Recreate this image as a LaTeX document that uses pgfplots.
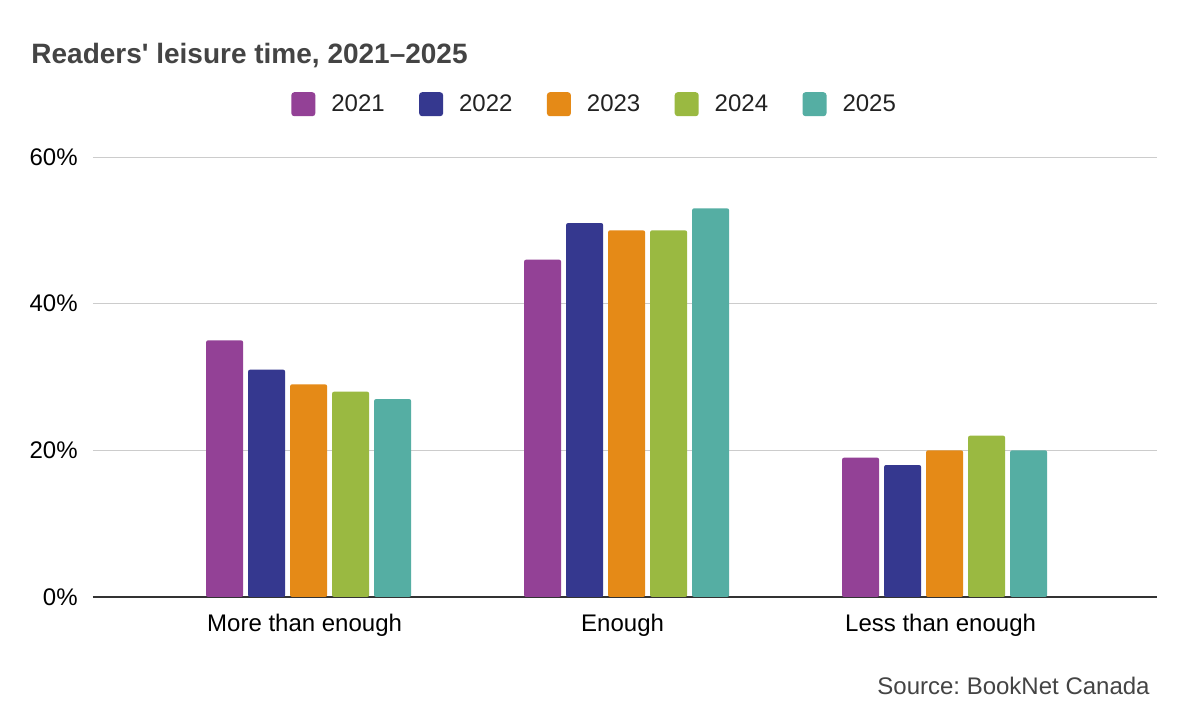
\documentclass[border=0pt]{standalone}
\usepackage{fontspec}
\setmainfont{Liberation Sans}
\usepackage{pgfplots}
\pgfplotsset{compat=1.18}
\definecolor{cA}{HTML}{934196}
\definecolor{cB}{HTML}{35388F}
\definecolor{cC}{HTML}{E58A17}
\definecolor{cD}{HTML}{9AB941}
\definecolor{cE}{HTML}{55AEA3}
\definecolor{titlegray}{HTML}{444444}
\definecolor{gridgray}{HTML}{CCCCCC}
\definecolor{axisdark}{HTML}{333333}
\definecolor{txt}{HTML}{222222}
\newcommand\fs{\fontsize{12pt}{14pt}\selectfont}
\frenchspacing
\begin{document}
\begin{tikzpicture}
\useasboundingbox (0,0) rectangle (591pt,363.5pt);
\fill[white] (0,0) rectangle (591pt,363.5pt);
\node[anchor=base west, font=\fontsize{14pt}{16pt}\selectfont\bfseries, text=titlegray, inner sep=0pt] at (15.5pt,331.5pt) {Readers\textquotesingle{} leisure time, 2021--2025};
\node[anchor=base east, font=\fs, text=titlegray, inner sep=0pt] at (575pt,16pt) {Source: BookNet Canada};
\begin{axis}[
  at={(46.5pt,65pt)}, anchor=south west,
  scale only axis, width=532pt, height=220pt,
  ybar=2.5pt, bar width=18.5pt,
  xmin=-0.678, xmax=2.668, ymin=0, ymax=60,
  xtick={0,1,2},
  xticklabels={More than enough, Enough, Less than enough},
  ytick={0,20,40,60},
  yticklabel={\pgfmathprintnumber{\tick}\%},
  /pgf/number format/assume math mode=true,
  axis x line*=bottom, axis y line*=left,
  y axis line style={draw=none},
  x axis line style={color=axisdark, line width=0.75pt},
  xtick style={draw=none}, ytick style={draw=none},
  ymajorgrids, grid style={color=gridgray, line width=0.5pt},
  ticklabel style={font=\fs, text=black, inner sep=0pt},
  yticklabel style={anchor=east, xshift=-7.5pt},
  xticklabel style={anchor=base, yshift=-13pt, xshift=-2pt},
  legend image code/.code={\fill[#1,draw=none,rounded corners=1.5pt] (0pt,-6pt) rectangle (12pt,6pt);},
  legend columns=5,
  legend style={at={(0.4705,1.1200)}, anchor=center, draw=none, fill=none,
    font=\fs, text=txt, inner sep=0pt,
    nodes={inner sep=0pt},
    /tikz/every odd column/.append style={column sep=8pt},
    /tikz/every even column/.append style={column sep=17.2pt}},
  every axis plot/.append style={draw=none, rounded corners=1pt},
]
\addplot[fill=cA] coordinates {(0,35) (1,46) (2,19)};
\addlegendentry{2021}
\addplot[fill=cB] coordinates {(0,31) (1,51) (2,18)};
\addlegendentry{2022}
\addplot[fill=cC] coordinates {(0,29) (1,50) (2,20)};
\addlegendentry{2023}
\addplot[fill=cD] coordinates {(0,28) (1,50) (2,22)};
\addlegendentry{2024}
\addplot[fill=cE] coordinates {(0,27) (1,53) (2,20)};
\addlegendentry{2025}
\end{axis}
\end{tikzpicture}
\end{document}
